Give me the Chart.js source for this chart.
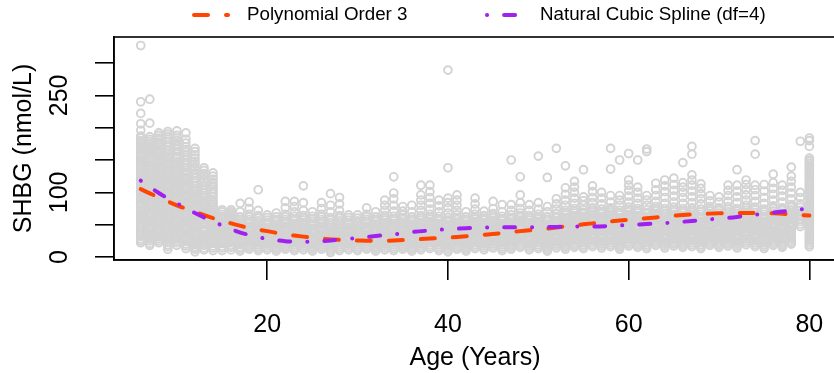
<!DOCTYPE html>
<html>
<head>
<meta charset="utf-8">
<script src="https://cdn.jsdelivr.net/npm/chart.js@4.4.1/dist/chart.umd.min.js"></script>
<style>
  html, body { margin: 0; padding: 0; background: #fff; overflow: hidden; }
  #wrap { width: 834px; height: 373px; overflow: hidden; }
</style>
</head>
<body>
<div id="wrap"><canvas id="myChart" width="842" height="373"></canvas></div>
<script>
// ages of the SHBG sample (one column of points per year)
const ages = [6, 7, 8, 9, 10, 11, 12, 13, 14, 15, 16, 17, 18, 19, 20, 21, 22, 23, 24, 25, 26, 27, 28, 29,
    30, 31, 32, 33, 34, 35, 36, 37, 38, 39, 40, 41, 42, 43, 44, 45, 46, 47, 48, 49, 50, 51, 52, 53, 54, 55,
    56, 57, 58, 59, 60, 61, 62, 63, 64, 65, 66, 67, 68, 69, 70, 71, 72, 73, 74, 75, 76, 77, 78, 79, 80];

// SHBG readings (nmol/L) per age
const shbg = [
    [22,28,35,41,47,53,60,66,73,80,86,93,100,106,113,120,127,133,140,146,153,160,167,173,180,187,196,206,222,240,327],
    [18,25,31,37,44,50,57,64,70,77,84,90,97,104,111,118,124,131,138,145,152,159,166,172,179,186,207,244],
    [22,28,34,41,48,54,61,68,74,81,88,95,101,108,115,122,128,135,142,149,156,163,170,177,184,192],
    [12,19,26,32,39,46,52,59,66,73,79,86,93,100,107,113,120,127,134,141,148,155,162,170,178,186,194],
    [18,25,31,38,45,51,58,65,72,79,85,92,99,106,113,120,127,134,141,148,155,163,171,180,188,195],
    [13,20,27,33,40,47,54,60,67,74,81,88,95,102,109,116,123,130,138,146,154,162,170,182,192],
    [8,15,22,29,36,43,50,57,64,71,78,85,92,99,106,114,122,130,139,148,158,168],
    [11,18,25,32,39,46,53,60,67,74,81,88,95,103,111,120,129,138],
    [10,17,24,31,38,45,52,59,66,73,80,88,97,105,112,120,130],
    [10,17,24,31,38,45,52,59,66,73],
    [11,18,25,32,39,46,53,60,67,73],
    [9,15,22,28,35,41,48,55,62,70,83],
    [12,18,25,31,38,44,51,58,66,75,85],
    [10,16,23,29,36,42,49,56,64,72,104],
    [11,17,24,30,37,43,50,57,65],
    [9,15,22,28,35,41,48,55,62,68],
    [12,18,25,31,38,44,51,58,66,76,86],
    [10,16,23,29,36,42,49,56,63,70,78,86],
    [11,17,24,30,37,43,50,57,64,72,84,110],
    [9,15,22,28,35,41,48,55,63,70],
    [12,18,25,31,38,44,51,58,66,75,84],
    [7,13,20,26,33,39,46,53,61,70,80,98],
    [10,16,23,29,36,42,49,56,64,72,82,92],
    [11,17,24,30,37,43,50,57,65],
    [10,16,23,29,36,42,49,56,65],
    [12,18,25,31,38,44,51,58,66,76],
    [9,15,22,28,35,41,48,55,62,70],
    [11,17,24,30,37,43,50,57,64,72,80,88],
    [10,16,23,29,36,42,49,56,63,71,80,90,99,124],
    [12,18,25,31,38,44,51,58,65,71,78],
    [9,15,22,28,35,41,48,55,62,70,80],
    [11,17,24,30,37,43,50,57,64,72,80,88,96,111],
    [13,19,26,32,39,45,52,59,66,74,83,92,101,111],
    [10,16,23,29,36,42,49,56,63,70,79,88],
    [8,14,21,27,34,40,47,54,61,68,76,84,91,138,289],
    [12,18,25,31,38,44,51,58,65,72,80,88,96],
    [9,15,22,28,35,41,48,55,62,70],
    [13,19,26,32,39,45,52,59,66,74,82,91],
    [11,17,24,30,37,43,50,57,64,71],
    [14,20,27,33,40,46,53,60,67,75,86],
    [10,16,23,29,36,42,49,56,63,70,81],
    [12,18,25,31,38,44,51,58,65,72,81,150],
    [15,21,28,34,41,47,54,61,68,75,84,96,124],
    [11,17,24,30,37,43,50,57,64,72,81],
    [13,19,26,32,39,45,52,59,66,74,84,156],
    [9,15,22,28,35,41,48,55,62,70,78,123],
    [14,20,27,33,40,46,53,60,67,74,82,90,168],
    [12,18,25,31,38,44,51,58,65,72,80,88,97,107,141],
    [15,21,28,34,41,47,54,61,68,75,83,91,100,108,117],
    [13,19,26,32,39,45,52,59,66,73,80,87,93,135],
    [16,22,29,35,42,48,55,62,69,76,84,92,101,110],
    [14,20,27,33,40,46,53,60,67,74,82,91,100],
    [16,22,29,35,42,48,55,62,69,76,85,95,136,168],
    [12,18,25,31,38,44,51,58,65,72,80,88,95,150],
    [17,23,30,36,43,49,56,63,70,77,85,94,103,111,119,160],
    [15,21,28,34,41,47,54,61,68,75,83,91,100,108,150],
    [13,19,26,32,39,45,52,59,66,73,80,88,95,163,167],
    [18,24,31,37,44,50,57,64,71,78,86,95,104,114],
    [14,20,27,33,40,46,53,60,67,75,83,92,101,110,119],
    [17,23,30,36,43,49,56,63,70,77,85,94,103,112,122],
    [15,21,28,34,41,47,54,61,68,75,83,92,100,108,115,146],
    [16,22,29,35,42,48,55,62,69,76,84,93,102,111,119,127,159,171],
    [13,19,26,32,39,45,52,59,66,74,82,90,98,106,113],
    [18,24,31,37,44,50,57,64,71,78,87,95],
    [15,21,28,34,41,47,54,61,68,76,85,93],
    [17,23,30,36,43,49,56,63,70,78,86,95,103,111],
    [14,20,27,33,40,46,53,60,67,75,84,93,102,111,135],
    [19,25,32,38,45,51,58,65,72,80,88,96,104,112,119],
    [16,22,29,35,42,48,55,62,69,77,86,95,104,111,159,180],
    [13,19,26,32,39,45,52,59,66,74,83,92,102,112],
    [18,24,31,37,44,50,57,64,71,79,88,97,106,115,128],
    [15,21,28,34,41,47,54,61,68,76,85,94,103,111],
    [20,26,33,39,46,52,59,66,73,81,90,99,108,117,125,139],
    [47,55,63,72,82,92,100,179],
    [16,22,28,34,40,46,52,58,64,70,76,82,88,94,100,106,112,118,124,130,136,142,148,153,171,180,184]
];

// more readings inside the crowded part of each column
const shbgCore = [
    [25,32,38,44,50,57,63,70,77,83,90,97,103,110,117,124,130,137,143,150,157,164,170,177,184],
    [21,28,34,41,47,54,61,67,74,81,87,94,101,108,115,121,128,135,142,149,156,163,169,176,182],
    [25,31,38,45,51,58,65,71,78,85,92,98,105,112,119,125,132,139,146,153,160,167,174,181,188],
    [16,23,29,36,43,49,56,63,70,76,83,90,97,104,110,117,124,131,138,145,152,159,166,174,182,190],
    [22,28,35,42,48,55,62,69,76,82,89,96,103,110,117,124,131,138,145,152,159,167,175,184],
    [17,24,30,37,44,51,57,64,71,78,85,92,99,106,113,120,127,134,142,150,158,166,176],
    [12,19,26,33,40,47,54,61,68,75,82,89,96,103,110,118,126,135,144,153,163],
    [14,21,28,35,42,50,57,64,71,78,85,92,99,107,116,125,134],
    [14,21,28,35,42,49,56,63,70,77,84,93,101,109,116,125],
    [14,21,28,35,42,49,56,63,70],
    [15,22,29,36,43,50,57,64,70],
    [12,19,25,32,38,45,52,58],
    [15,21,28,34,41,47,54,62],
    [13,19,26,32,39,45,52,60],
    [14,20,27,33,40,46,53,61],
    [12,18,25,31,38,44,51,58],
    [15,21,28,34,41,47,54,62],
    [13,19,26,32,39,45,52,59],
    [14,20,27,33,40,46,53,60],
    [12,18,25,31,38,44,51,59],
    [15,21,28,34,41,47,54,62],
    [10,16,23,29,36,42,49,57],
    [13,19,26,32,39,45,52,60],
    [14,20,27,33,40,46,53,61],
    [13,19,26,32,39,45,52,60],
    [15,21,28,34,41,47,54,62],
    [12,18,25,31,38,44,51,58],
    [14,20,27,33,40,46,53,60],
    [13,19,26,32,39,45,52,59],
    [15,21,28,34,41,47,54,61],
    [12,18,25,31,38,44,51,58],
    [14,20,27,33,40,46,53,60],
    [16,22,29,35,42,48,55,62],
    [13,19,26,32,39,45,52,59],
    [11,17,24,30,37,43,50,57],
    [15,21,28,34,41,47,54,61],
    [12,18,25,31,38,44,51,58],
    [16,22,29,35,42,48,55,62],
    [14,20,27,33,40,46,53,60],
    [17,23,30,36,43,49,56,63],
    [13,19,26,32,39,45,52,59],
    [15,21,28,34,41,47,54,61],
    [18,24,31,37,44,50,57,64],
    [14,20,27,33,40,46,53,60],
    [16,22,29,35,42,48,55,62],
    [12,18,25,31,38,44,51,58],
    [17,23,30,36,43,49,56,63],
    [15,21,28,34,41,47,54,61,68],
    [18,24,31,37,44,50,57,64,71],
    [16,22,29,35,42,48,55,62,69],
    [19,25,32,38,45,51,58,65,72],
    [17,23,30,36,43,49,56,63,70],
    [19,25,32,38,45,51,58,65,72],
    [15,21,28,34,41,47,54,61,68],
    [20,26,33,39,46,52,59,66,73],
    [18,24,31,37,44,50,57,64,71],
    [16,22,29,35,42,48,55,62,69],
    [21,27,34,40,47,53,60,67,74],
    [17,23,30,36,43,49,56,63,71],
    [20,26,33,39,46,52,59,66,73],
    [18,24,31,37,44,50,57,64,71],
    [19,25,32,38,45,51,58,65,72],
    [16,22,29,35,42,48,55,62,70],
    [21,27,34,40,47,53,60,67,74],
    [18,24,31,37,44,50,57,64,72],
    [20,26,33,39,46,52,59,66,74],
    [17,23,30,36,43,49,56,63,71],
    [22,28,35,41,48,54,61,68,76],
    [19,25,32,38,45,51,58,65,73],
    [16,22,29,35,42,48,55,62,70],
    [21,27,34,40,47,53,60,67,75],
    [18,24,31,37,44,50,57,64,72],
    [23,29,36,42,49,55,62,69,77],
    [51,59,67,77],
    [19,25,31,37,43,49,55,61,67,73,79,85,91,97,103,109,115,121,127,133,139,145,150]
];

// fitted curves
const fitAges = [6, 8, 10, 12, 14, 16, 18, 20, 22, 24, 26, 28, 30, 32, 34, 36, 38, 40, 42, 44, 46, 48,
    50, 52, 54, 56, 58, 60, 62, 64, 66, 68, 70, 72, 74, 76, 78, 80];
const polyFit = [105, 92, 80, 70, 60, 52, 45, 40, 35, 31.5, 28.5, 26.5, 25.5, 25, 25.5, 27, 28.5, 30, 32,
    34.5, 37, 40, 42.5, 45.5, 49, 52, 55, 57.5, 60, 62.5, 65, 66.5, 67.5, 68, 68, 67.5, 66, 64];
const splineFit = [118, 99, 83, 68, 55, 43, 34, 28, 24.5, 23.5, 24.5, 27, 29.5, 32.5, 35, 38.5, 41, 43,
    44.5, 45.5, 46, 46, 46, 46.5, 47, 47, 48, 49.5, 51, 52.5, 54.5, 57, 59.5, 62, 65.5, 68.5, 72, 75];

const seriesNames = ['Polynomial Order 3', 'Natural Cubic Spline (df=4)'];
const xTicks = [20, 40, 60, 80];
const yTicks = [0, 50, 100, 150, 200, 250, 300];
const yLabels = [0, 100, 250];

const FONT = '"Liberation Sans", Arial, Helvetica, sans-serif';
const ORANGE = '#FF4500';
const PURPLE = '#A020F0';
const POLY_DASH = [14, 18];
const SPLINE_DASH = [0.1, 17, 11, 17];

let points = [];
ages.forEach((a, i) => {
    shbg[i].forEach(v => points.push({x: a, y: v}));
    shbgCore[i].forEach(v => points.push({x: a, y: v}));
});

function curve(vals) {
    return fitAges.map((a, i) => ({x: a, y: vals[i]}));
}

// draws the R-style box, y labels, axis titles and legend
const rStyle = {
    id: 'rStyle',
    afterDraw(chart) {
        const ctx = chart.ctx;
        const ca = chart.chartArea;
        const ys = chart.scales.y;
        ctx.save();
        ctx.strokeStyle = '#000';
        ctx.lineWidth = 1.6;
        ctx.strokeRect(ca.left, ca.top, ca.right - ca.left, ca.bottom - ca.top);

        ctx.fillStyle = '#000';
        ctx.font = '25px ' + FONT;
        ctx.textAlign = 'center';
        ctx.textBaseline = 'middle';
        yLabels.forEach(v => {
            ctx.save();
            ctx.translate(60, ys.getPixelForValue(v));
            ctx.rotate(-Math.PI / 2);
            ctx.fillText(String(v), 0, 0);
            ctx.restore();
        });
        ctx.save();
        ctx.translate(24, (ca.top + ca.bottom) / 2);
        ctx.rotate(-Math.PI / 2);
        ctx.fillText('SHBG (nmol/L)', 0, 0);
        ctx.restore();
        ctx.fillText('Age (Years)', 475, 358);

        // legend
        ctx.lineWidth = 4;
        ctx.lineCap = 'round';
        ctx.strokeStyle = ORANGE;
        ctx.setLineDash(POLY_DASH);
        ctx.beginPath(); ctx.moveTo(194, 15); ctx.lineTo(228, 15); ctx.stroke();
        ctx.strokeStyle = PURPLE;
        ctx.setLineDash(SPLINE_DASH);
        ctx.beginPath(); ctx.moveTo(487, 15); ctx.lineTo(519, 15); ctx.stroke();
        ctx.setLineDash([]);
        ctx.font = '18.75px ' + FONT;
        ctx.textAlign = 'left';
        ctx.fillText(seriesNames[0], 247, 15);
        ctx.fillText(seriesNames[1], 540, 15);
        ctx.restore();
    }
};

const ctx = document.getElementById('myChart').getContext('2d');
const myChart = new Chart(ctx, {
    type: 'scatter',
    data: {
        datasets: [
            {
                label: seriesNames[1],
                data: curve(splineFit),
                showLine: true,
                borderColor: PURPLE,
                borderWidth: 4,
                borderDash: SPLINE_DASH,
                borderCapStyle: 'round',
                pointRadius: 0,
                tension: 0.4,
                order: 1
            },
            {
                label: seriesNames[0],
                data: curve(polyFit),
                showLine: true,
                borderColor: ORANGE,
                borderWidth: 4,
                borderDash: POLY_DASH,
                borderCapStyle: 'round',
                pointRadius: 0,
                tension: 0.4,
                order: 2
            },
            {
                label: 'SHBG',
                data: points,
                pointRadius: 3.9,
                pointBorderWidth: 1.9,
                pointBorderColor: '#D3D3D3',
                pointBackgroundColor: 'rgba(0,0,0,0)',
                borderColor: '#D3D3D3',
                backgroundColor: 'rgba(0,0,0,0)',
                order: 3
            }
        ]
    },
    options: {
        responsive: false,
        animation: false,
        events: [],
        layout: { padding: { left: 0, top: 37, right: 0, bottom: 0 } },
        plugins: { legend: { display: false }, tooltip: { enabled: false } },
        scales: {
            x: {
                type: 'linear',
                min: 3.04,
                max: 82.96,
                afterBuildTicks: s => { s.ticks = xTicks.map(v => ({value: v})); },
                afterFit: s => { s.height = 113; s.paddingLeft = 0; s.paddingRight = 0; },
                grid: { drawOnChartArea: false, drawTicks: true, tickLength: 20, color: '#000', lineWidth: 1.6 },
                border: { display: true, color: '#000', width: 1.6 },
                ticks: {
                    autoSkip: false, maxRotation: 0, padding: 30, color: '#000',
                    font: { family: FONT, size: 25 },
                    callback: v => String(v)
                }
            },
            y: {
                type: 'linear',
                min: -4.64,
                max: 340.2,
                afterBuildTicks: s => { s.ticks = yTicks.map(v => ({value: v})); },
                afterFit: s => { s.width = 114; s.paddingTop = 0; s.paddingBottom = 0; },
                grid: { drawOnChartArea: false, drawTicks: true, tickLength: 19, color: '#000', lineWidth: 1.6 },
                border: { display: true, color: '#000', width: 1.6 },
                ticks: { display: false }
            }
        }
    },
    plugins: [rStyle]
});
</script>
</body>
</html>
